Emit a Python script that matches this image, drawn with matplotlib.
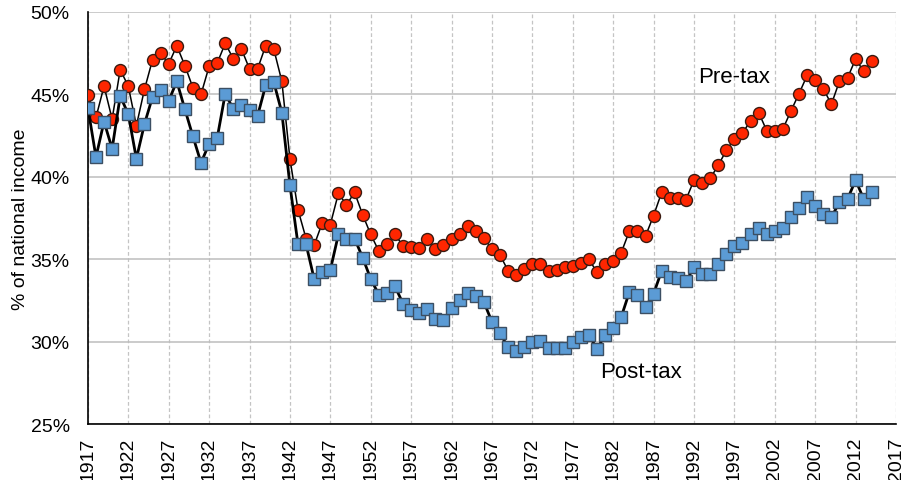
import numpy as np
import matplotlib
matplotlib.use("Agg")
import matplotlib.pyplot as plt

plt.rcParams['font.family'] = ['Liberation Sans', 'DejaVu Sans']

years = list(range(1917, 2015))

pre_tax = [
    44.95, 43.6, 45.5, 43.5, 46.5, 45.5, 43.1, 45.3, 47.1, 47.5,   # 1917-1926
    46.85, 47.95, 46.75, 45.4, 45.0, 46.7, 46.9, 48.1, 47.15, 47.75,  # 1927-1936
    46.55, 46.55, 47.95, 47.75, 45.8, 41.1, 38.0, 36.25, 35.85, 37.2,  # 1937-1946
    37.1, 39.0, 38.3, 39.05, 37.7, 36.5, 35.5, 35.9, 36.5, 35.8,   # 1947-1956
    35.75, 35.7, 36.2, 35.6, 35.85, 36.2, 36.5, 37.0, 36.7, 36.3,  # 1957-1966
    35.6, 35.25, 34.3, 34.05, 34.4, 34.7, 34.7, 34.3, 34.35, 34.5,  # 1967-1976
    34.6, 34.75, 35.0, 34.2, 34.7, 34.9, 35.4, 36.7, 36.7, 36.4,   # 1977-1986
    37.65, 39.05, 38.7, 38.7, 38.6, 39.8, 39.6, 39.9, 40.7, 41.6,  # 1987-1996
    42.3, 42.65, 43.4, 43.9, 42.8, 42.75, 42.9, 44.0, 45.05, 46.15,  # 1997-2006
    45.85, 45.35, 44.4, 45.8, 46.0, 47.15, 46.4, 47.05,            # 2007-2014
]

post_tax = [
    44.2, 41.2, 43.35, 41.7, 44.9, 43.8, 41.1, 43.2, 44.85, 45.25,  # 1917-1926
    44.6, 45.8, 44.1, 42.45, 40.85, 42.0, 42.35, 45.05, 44.1, 44.35,  # 1927-1936
    44.05, 43.7, 45.55, 45.75, 43.9, 39.5, 35.9, 35.9, 33.8, 34.2,  # 1937-1946
    34.35, 36.5, 36.2, 36.25, 35.1, 33.8, 32.85, 32.95, 33.35, 32.3,  # 1947-1956
    31.9, 31.75, 32.0, 31.35, 31.3, 32.05, 32.5, 32.95, 32.75, 32.4,  # 1957-1966
    31.2, 30.5, 29.65, 29.45, 29.65, 29.95, 30.05, 29.6, 29.6, 29.6,  # 1967-1976
    29.95, 30.25, 30.4, 29.55, 30.4, 30.8, 31.5, 33.0, 32.8, 32.1,  # 1977-1986
    32.9, 34.3, 33.9, 33.85, 33.65, 34.5, 34.1, 34.1, 34.7, 35.3,  # 1987-1996
    35.8, 36.0, 36.5, 36.9, 36.5, 36.7, 36.9, 37.55, 38.1, 38.75,  # 1997-2006
    38.2, 37.75, 37.55, 38.45, 38.65, 39.8, 38.65, 39.1,           # 2007-2014
]

xticks = list(range(1917, 2018, 5))
yticks = [25, 30, 35, 40, 45, 50]

fig = plt.figure(figsize=(9.06, 4.81), dpi=100)
ax = fig.add_axes([0.097, 0.1164, 0.892, 0.8566])

ax.plot(years, pre_tax, color='black', lw=1.1, marker='o', ms=8.6,
        mfc='#ff2600', mec='#3a1a10', mew=1.0, zorder=3)
ax.plot(years, post_tax, color='black', lw=2.0, marker='s', ms=8.0,
        mfc='#5b9bd5', mec='#3c4f63', mew=1.0, zorder=3)

ax.set_xlim(1917, 2017)
ax.set_ylim(25, 50)
ax.set_xticks(xticks)
ax.set_xticklabels([str(y) for y in xticks], rotation=90, fontsize=14)
ax.set_yticks(yticks)
ax.set_yticklabels([f'{y}%' for y in yticks], fontsize=14)
ax.tick_params(axis='y', length=0, pad=13)
ax.tick_params(axis='x', length=0, pad=9)

ax.yaxis.grid(True, color='#bdbdbd', lw=1.1, ls='-')
ax.xaxis.grid(True, color='#c4c4c4', lw=0.9, ls=(0, (3, 2)))
ax.set_axisbelow(True)

for s in ['top', 'right']:
    ax.spines[s].set_visible(False)
ax.spines['left'].set_linewidth(1.2)
ax.spines['bottom'].set_linewidth(1.2)

ax.set_ylabel('% of national income', fontsize=14, labelpad=1)
ax.text(1996.9, 46.06, 'Pre-tax', fontsize=16, ha='center', va='center')
ax.text(1985.5, 28.2, 'Post-tax', fontsize=16, ha='center', va='center')

fig.savefig('out.png', dpi=100)
